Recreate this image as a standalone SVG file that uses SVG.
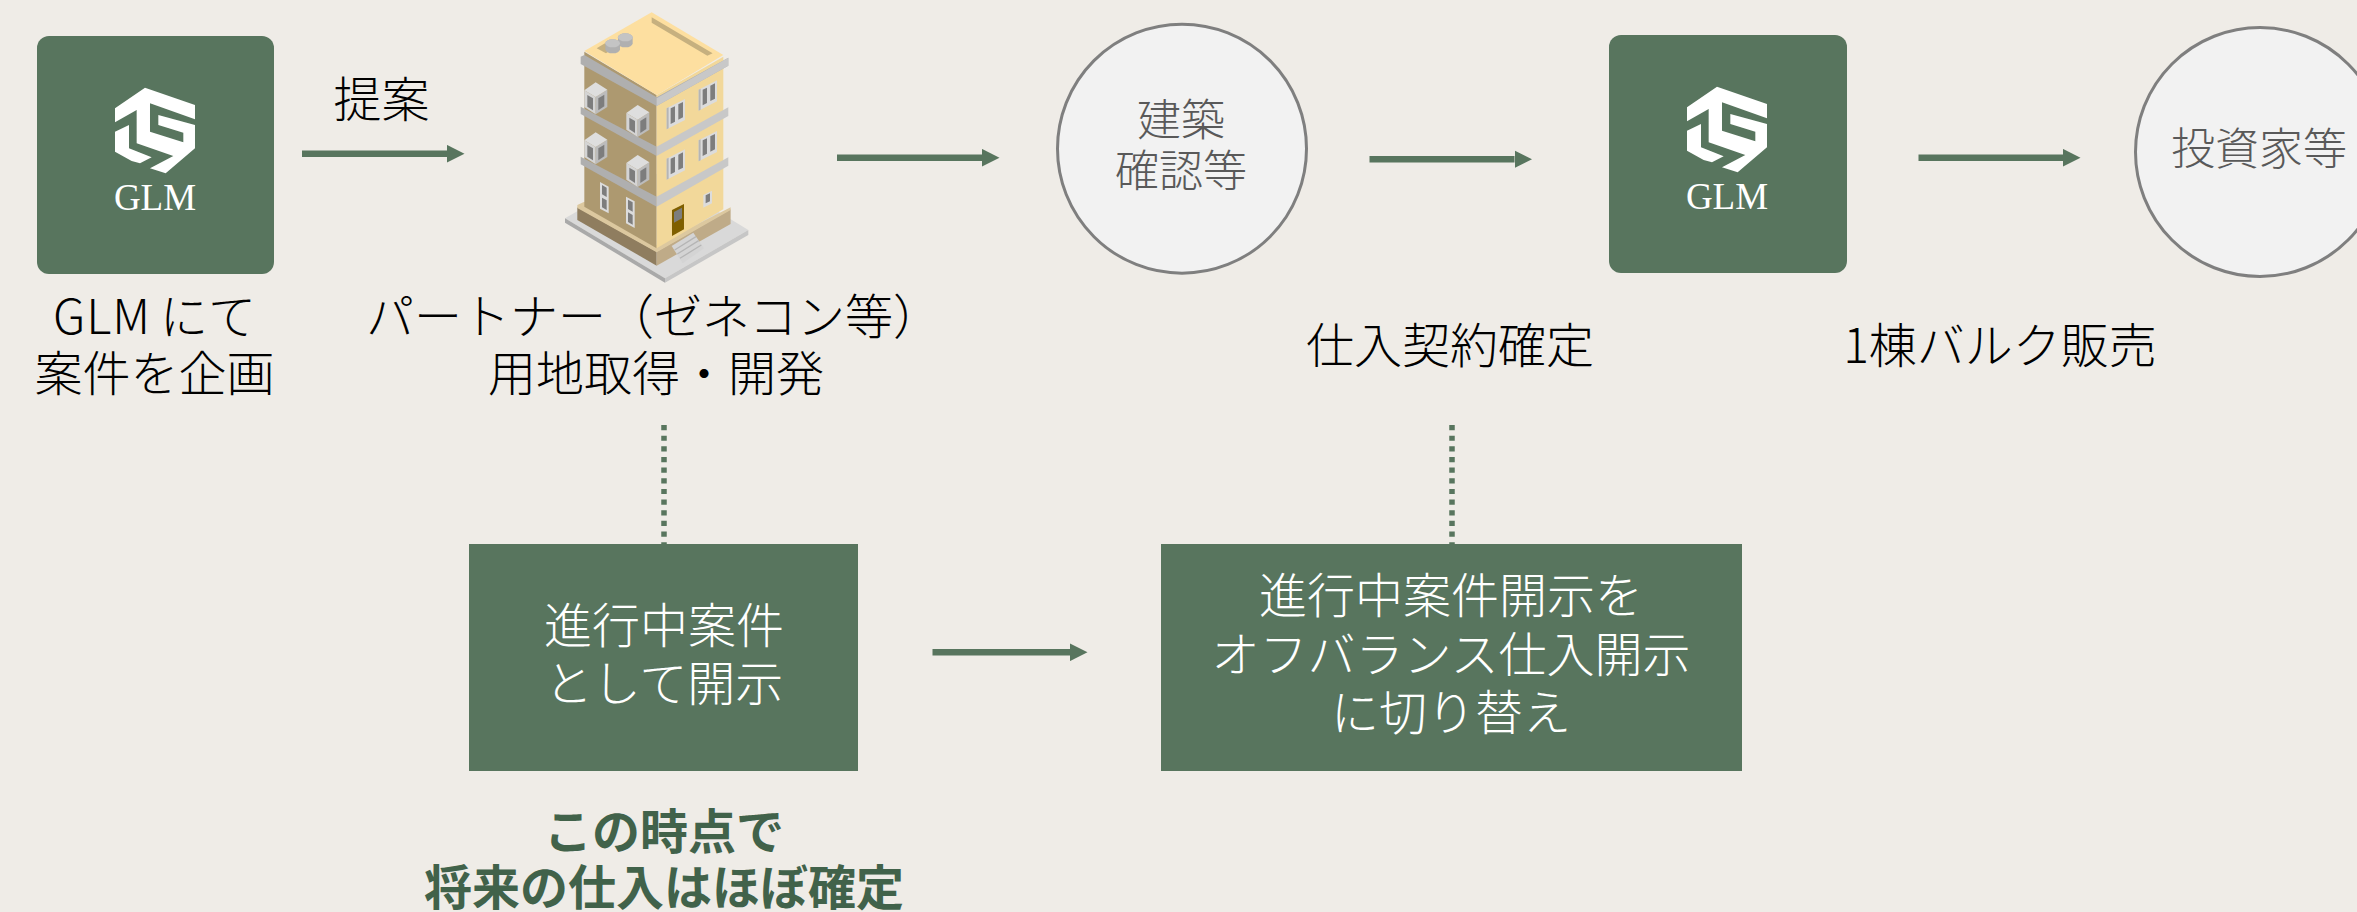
<svg xmlns="http://www.w3.org/2000/svg" xmlns:xlink="http://www.w3.org/1999/xlink" width="2357" height="912" viewBox="0 0 2357 912">
<style>
text{font-family:"Noto Sans CJK JP","Noto Sans",sans-serif;font-weight:300;text-anchor:middle}
.k{font-size:48px;fill:#000}
.w{font-size:48px;fill:#fff}
.g{font-size:44px;fill:#595959}
.b{font-size:48px;fill:#41624a;font-weight:700}
.glm{font-family:"Liberation Serif",serif;font-size:37px;fill:#fff;font-weight:400}
.box{fill:#58755e}
.c{fill:#f2f2f2;stroke:#7f7f7f;stroke-width:3}
.ar{fill:none;stroke:#58755e;stroke-width:6.5;marker-end:url(#h)}
.dot{fill:none;stroke:#58755e;stroke-width:5.5;stroke-dasharray:5.2 5.45}
</style>
<defs>
<marker id="h" markerUnits="userSpaceOnUse" markerWidth="18" markerHeight="18" refX="0" refY="9" orient="auto"><path d="M0,0.2 L17.5,9 L0,17.8 z" fill="#58755e"/></marker>
<g id="logo">
<path fill="#fff" d="M120,23 L270,75 L270,118 L135,70 L135,155 L235,187 L235,158 L160,135 L160,105 L270,135 L270,205 L182,280 L135,265 L205,228 L95,190 L95,90 L30,127 L30,85 Z"/>
<path fill="#fff" d="M30,155 L72,135 L72,205 L140,232 L105,250 L80,243 L30,215 Z"/>
</g>
<g id="baywin">
<path d="M0,24 L34,44 L34,96 L0,74 Z" fill="#d4d4d4"/>
<path d="M34,44 L69,22 L69,74 L34,96 Z" fill="#bcbcbc"/>
<path d="M0,24 L34,0 L69,22 L34,44 Z" fill="#dedede"/>
<path d="M9,38 L26,48 L26,84 L9,73 Z" fill="#7d7d7d"/>
<path d="M42,48 L60,37 L60,72 L42,84 Z" fill="#7d7d7d"/>
</g>
<g id="win">
<path d="M0,28 L55,0 L55,63 L0,91 Z" fill="#dcdcdc"/>
<path d="M0,28 L6,25 L6,88 L0,91 Z" fill="#b5b5b5"/>
<path d="M12,28 L25,22 L25,68 L12,75 Z" fill="#7d7d7d"/>
<path d="M35,16 L49,9 L49,55 L35,62 Z" fill="#7d7d7d"/>
</g>
<g id="win2">
<path d="M0,0 L26,14 L26,94 L0,80 Z" fill="#dcdcdc"/>
<path d="M6,9 L20,17 L20,45 L6,37 Z" fill="#7d7d7d"/>
<path d="M6,47 L20,55 L20,84 L6,76 Z" fill="#7d7d7d"/>
</g>
</defs>
<rect width="2357" height="912" fill="#efece7"/>
<g id="connectors">
<line class="ar" x1="302" y1="153.7" x2="447" y2="153.7"/>
<line class="ar" x1="837" y1="157.7" x2="982" y2="157.7"/>
<line class="ar" x1="1369.5" y1="159.3" x2="1514.5" y2="159.3"/>
<line class="ar" x1="1918.5" y1="157.7" x2="2063" y2="157.7"/>
<line class="ar" x1="932.5" y1="652.3" x2="1070" y2="652.3"/>
<line class="dot" x1="664" y1="425" x2="664" y2="544"/>
<line class="dot" x1="1452" y1="425" x2="1452" y2="544"/>
</g>
<g id="node-glm1">
<rect class="box" x="37" y="36" width="237" height="238" rx="12"/>
<use xlink:href="#logo" href="#logo" transform="translate(105,80) scale(.3333)"/>
<text class="glm" x="155" y="210">GLM</text>
<text class="k" x="53" y="334" style="text-anchor:start"><tspan letter-spacing="1">GLM</tspan><tspan x="160">にて</tspan></text>
<text class="k" x="154.500" y="391">案件を企画</text>
</g>
<text id="label-teian" class="k" x="381.500" y="116.500">提案</text>
<g id="node-building">
<g transform="translate(550,0) scale(.3333)">
<path d="M45,655 L300,510 L595,690 L345,835 Z" fill="#d9d9d9"/>
<path d="M45,655 L345,835 L345,848 L45,668 Z" fill="#a9a9a9"/>
<path d="M345,835 L595,690 L595,705 L345,848 Z" fill="#c6c6c6"/>
<path d="M82,622 L320,755 L320,797 L82,660 Z" fill="#8f7d5f"/>
<path d="M320,755 L542,628 L542,672 L320,797 Z" fill="#bfab88"/>
<path d="M82,615 L103,605 L320,735 L542,622 L542,630 L320,757 L82,624 Z" fill="#dcc89f"/>
<path d="M103,155 L320,285 L320,745 L103,620 Z" fill="#ad9970"/>
<path d="M320,285 L520,170 L520,628 L320,745 Z" fill="#f2d89a"/>
<path d="M103,153 L305,37 L520,165 L320,285 Z" fill="#fddfa0"/>
<path d="M305,52 L488,160 L472,167 L305,68 Z" fill="#c6b07f"/>
<path d="M140,145 L165,130 L190,145 L168,160 Z" fill="#c6b07f"/>
<path d="M92,170 L103,165 L320,292 L535,173 L535,197 L320,318 L92,192 Z" fill="#afafaf"/>
<path d="M320,295 L535,173 L535,197 L320,318 Z" fill="#c8c8c8"/>
<path d="M92,320 L320,440 L320,468 L92,342 Z" fill="#afafaf"/>
<path d="M320,440 L535,322 L535,348 L320,468 Z" fill="#c8c8c8"/>
<path d="M92,470 L320,590 L320,620 L92,493 Z" fill="#afafaf"/>
<path d="M320,590 L535,472 L535,497 L320,620 Z" fill="#c8c8c8"/>
<path d="M204,112 a22,12 0 0 1 44,0 v18 a22,12 0 0 1 -44,0 z" fill="#b0b0b0"/>
<ellipse cx="226" cy="112" rx="22" ry="12" fill="#c4c4c4"/>
<path d="M166,130 a22,12 0 0 1 44,0 v18 a22,12 0 0 1 -44,0 z" fill="#b0b0b0"/>
<ellipse cx="188" cy="130" rx="22" ry="12" fill="#c4c4c4"/>
<use xlink:href="#baywin" href="#baywin" x="103" y="247"/>
<use xlink:href="#baywin" href="#baywin" x="229" y="315"/>
<use xlink:href="#baywin" href="#baywin" x="103" y="397"/>
<use xlink:href="#baywin" href="#baywin" x="229" y="465"/>
<use xlink:href="#win" href="#win" x="350" y="297"/>
<use xlink:href="#win" href="#win" x="446" y="241"/>
<use xlink:href="#win" href="#win" x="350" y="448"/>
<use xlink:href="#win" href="#win" x="446" y="393"/>
<use xlink:href="#win2" href="#win2" x="150" y="546"/>
<use xlink:href="#win2" href="#win2" x="228" y="590"/>
<path d="M460,585 L486,572 L486,610 L460,623 Z" fill="#dcdcdc"/>
<path d="M467,586 L480,580 L480,604 L467,610 Z" fill="#7d7d7d"/>
<path d="M366,630 L402,612 L402,688 L366,708 Z" fill="#7f5f00"/>
<path d="M372,636 L396,623 L396,655 L372,668 Z" fill="#7d7d7d"/>
<path d="M365,738 L430,698 L462,745 L398,790 Z" fill="#d4d4d4"/>
<path d="M374,750 L438,710 M382,762 L446,722 M390,775 L454,735" stroke="#b5b5b5" stroke-width="4" fill="none"/>
</g>
</g>
<text id="label-partner" class="k"><tspan x="653.500" y="334">パートナー（ゼネコン等）</tspan><tspan x="656" y="391">用地取得・開発</tspan></text>
<g id="node-kenchiku">
<circle class="c" cx="1182" cy="148.700" r="124.500"/>
<text class="g" x="1181" y="136">建築</text>
<text class="g" x="1181" y="187">確認等</text>
</g>
<text id="label-shiire" class="k" x="1450" y="363">仕入契約確定</text>
<g id="node-glm2">
<rect class="box" x="1609" y="35" width="238" height="238" rx="12"/>
<use xlink:href="#logo" href="#logo" transform="translate(1677,79) scale(.3333)"/>
<text class="glm" x="1727" y="209">GLM</text>
</g>
<text id="label-bulk" class="k" x="2000" y="363">1棟バルク販売</text>
<g id="node-investor">
<circle class="c" cx="2260" cy="152" r="124.500"/>
<text class="g" x="2259" y="165">投資家等</text>
</g>
<g id="node-disclose">
<rect class="box" x="469" y="544" width="389" height="227"/>
<text class="w" x="664" y="643">進行中案件</text>
<text class="w" x="664" y="701">として開示</text>
</g>
<g id="node-switch">
<rect class="box" x="1161" y="544" width="581" height="227"/>
<text class="w" x="1451" y="613">進行中案件開示を</text>
<text class="w" x="1451" y="672">オフバランス仕入開示</text>
<text class="w" x="1451" y="730">に切り替え</text>
</g>
<text id="label-note" class="b"><tspan x="664" y="849">この時点で</tspan><tspan x="664" y="905">将来の仕入はほぼ確定</tspan></text>
</svg>
